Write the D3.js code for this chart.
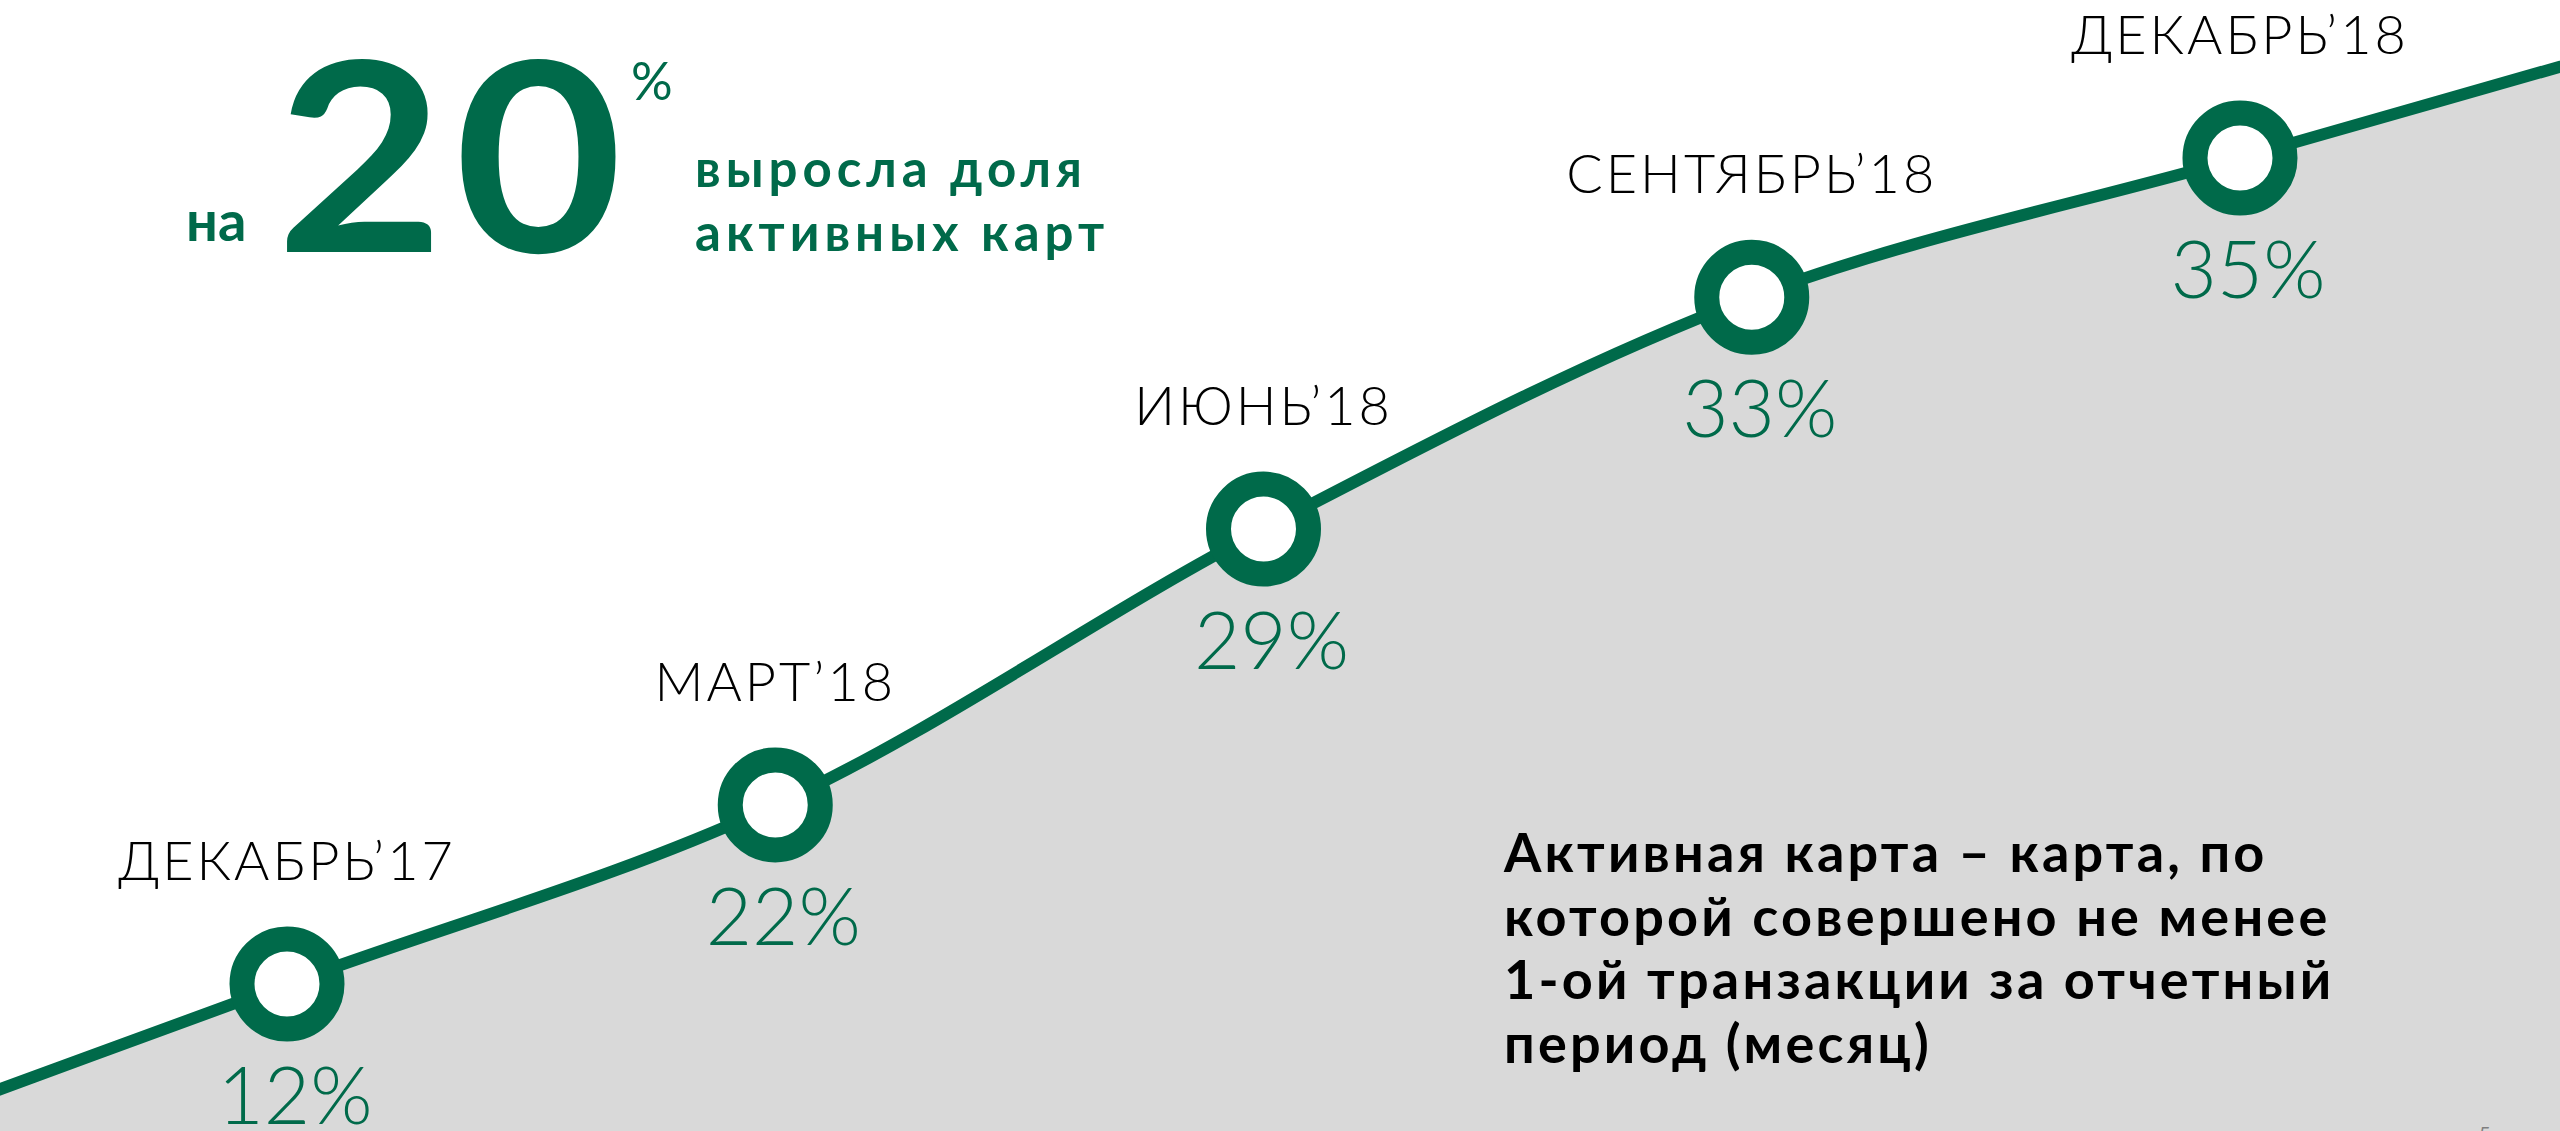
<!DOCTYPE html>
<html lang="ru">
<head>
<meta charset="utf-8">
<title>Доля активных карт</title>
<script src="https://cdn.jsdelivr.net/npm/d3@7"></script>
<style>
  body { margin: 0; background: #fff; }
  svg { display: block; font-family: Lato, 'Noto Sans', sans-serif; }
</style>
</head>
<body>
<svg id="chart"></svg>
<script>
// data
const months = ['ДЕКАБРЬ’17', 'МАРТ’18', 'ИЮНЬ’18', 'СЕНТЯБРЬ’18', 'ДЕКАБРЬ’18'];
const shares = [12, 22, 29, 33, 35];
const growth = 20;
const headlineLines = ['выросла доля', 'активных карт'];
const noteLines = [
  'Активная карта – карта, по',
  'которой совершено не менее',
  '1-ой транзакции за отчетный',
  'период (месяц)'
];

// set up constants
const width = 2560;
const height = 1131;
const green = '#006a4a';
const grey = '#d9d9d9';

const svg = d3.select('#chart')
  .attr('width', width)
  .attr('height', height);

const data = months.map((m, i) => ({ month: m, value: shares[i] }));

// create scales
const xScale = d3.scalePoint()
  .domain(months)
  .range([287, 2240]);

const yScale = d3.scalePow()
  .exponent(3)
  .domain([12, 35])
  .range([984, 158]);

// points of the curve, carried off both edges of the slide
const pts = data.map(d => [xScale(d.month), yScale(d.value)]);
const first = pts[0], second = pts[1];
const last = pts[pts.length - 1], prev = pts[pts.length - 2];
const curvePts = [
  [2 * first[0] - second[0], 2 * first[1] - second[1]],
  ...pts,
  [2 * last[0] - prev[0], 2 * last[1] - prev[1]]
];

const curve = d3.curveCatmullRom.alpha(0.5);
const line = d3.line().curve(curve);
const area = d3.area().curve(curve).y0(height + 50);

// grey area under the curve
svg.append('path')
  .attr('d', area(curvePts))
  .attr('fill', grey);

svg.append('path')
  .attr('d', line(curvePts))
  .attr('fill', 'none')
  .attr('stroke', green)
  .attr('stroke-width', 12);

// month labels
svg.selectAll('.month')
  .data(data)
  .enter()
  .append('text')
  .attr('class', 'month')
  .attr('x', d => xScale(d.month))
  .attr('y', d => yScale(d.value) - 104)
  .attr('text-anchor', 'middle')
  .attr('font-size', 54)
  .attr('font-weight', 300)
  .attr('letter-spacing', 3)
  .attr('fill', '#000')
  .text(d => d.month);

// value labels
svg.selectAll('.value')
  .data(data)
  .enter()
  .append('text')
  .attr('class', 'value')
  .attr('x', d => xScale(d.month) + 8)
  .attr('y', d => yScale(d.value) + 140)
  .attr('text-anchor', 'middle')
  .attr('font-size', 80)
  .attr('font-weight', 300)
  .attr('fill', green)
  .text(d => d.value + '%');

// ring markers
svg.selectAll('circle')
  .data(data)
  .enter()
  .append('circle')
  .attr('cx', d => xScale(d.month))
  .attr('cy', d => yScale(d.value))
  .attr('r', 45)
  .attr('fill', '#fff')
  .attr('stroke', green)
  .attr('stroke-width', 25);

// headline
const head = svg.append('g').attr('fill', green).attr('font-weight', 700);

head.append('text')
  .attr('x', 186)
  .attr('y', 241)
  .attr('font-size', 56)
  .text('на');

head.append('text')
  .attr('transform', 'translate(276,252) scale(1.1,1)')
  .attr('font-size', 264)
  .attr('letter-spacing', 9)
  .text(growth);

head.append('text')
  .attr('x', 631)
  .attr('y', 100)
  .attr('font-size', 52)
  .attr('font-weight', 400)
  .text('%');

head.selectAll('.sub')
  .data(headlineLines)
  .enter()
  .append('text')
  .attr('class', 'sub')
  .attr('x', 695)
  .attr('y', (d, i) => 187 + i * 64)
  .attr('font-size', 51)
  .attr('letter-spacing', 5)
  .text(d => d);

// definition note
svg.selectAll('.note')
  .data(noteLines)
  .enter()
  .append('text')
  .attr('class', 'note')
  .attr('x', 1504)
  .attr('y', (d, i) => 872 + i * 63.5)
  .attr('font-size', 54)
  .attr('font-weight', 700)
  .attr('letter-spacing', 3.2)
  .attr('fill', '#000')
  .text(d => d);

// page number, cut by the slide edge
svg.append('text')
  .attr('x', 2479)
  .attr('y', 1141)
  .attr('font-size', 20)
  .attr('fill', '#7f7f7f')
  .text('5');
</script>
</body>
</html>
